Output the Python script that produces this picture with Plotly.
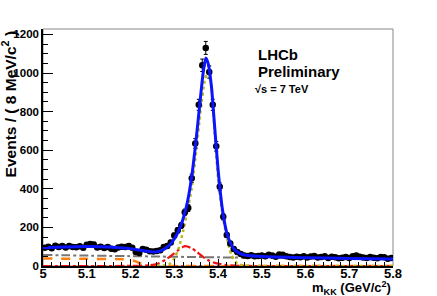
import numpy as np
import plotly.graph_objects as go

# ---- binned data: 100 bins of 8 MeV from 5.0 to 5.8 GeV ----
bin_lo = 5.0
bin_width = 0.008
counts = [95, 100, 92, 105, 98, 103, 96, 104, 99, 97,
          102, 94, 110, 114, 112, 96, 100, 93, 98, 90,
          87, 96, 100, 98, 104, 95, 72, 68, 88, 84,
          76, 75, 78, 82, 98, 104, 122, 158, 185, 210,
          278, 300, 455, 635, 835, 1040, 1130, 1005, 835, 620,
          410, 255, 160, 117, 88, 72, 62, 55, 52, 56,
          50, 52, 55, 50, 58, 54, 48, 60, 58, 50,
          46, 44, 48, 45, 50, 44, 49, 52, 44, 47,
          50, 42, 48, 45, 40, 43, 47, 42, 50, 54,
          48, 44, 41, 46, 43, 40, 47, 45, 38, 42]

# ---- fit components ----
total_x = [5.00, 5.05, 5.10, 5.15, 5.20, 5.22, 5.24, 5.25, 5.26, 5.27, 5.28, 5.29,
           5.30, 5.31, 5.32, 5.33, 5.34, 5.35, 5.36, 5.366, 5.372, 5.378, 5.385,
           5.39, 5.40, 5.41, 5.42, 5.43, 5.44, 5.45, 5.46, 5.50, 5.60, 5.70, 5.80]
total_y = [95, 98, 101, 99, 90, 83, 76, 73, 74, 80, 92, 110,
           140, 182, 242, 330, 465, 655, 875, 1000, 1078, 1045, 930,
           790, 505, 295, 172, 112, 80, 65, 57, 49, 43, 39, 36]

sig_x = [5.26, 5.28, 5.29, 5.30, 5.31, 5.32, 5.33, 5.34, 5.35, 5.36, 5.37, 5.377,
         5.385, 5.39, 5.40, 5.41, 5.42, 5.43, 5.44, 5.45, 5.46, 5.48, 5.80]
sig_y = [1, 4, 12, 38, 92, 178, 285, 405, 590, 800, 965, 1003,
         930, 775, 455, 270, 150, 62, 22, 7, 2, 0.5, 0]

b0_x = [5.00, 5.20, 5.24, 5.26, 5.28, 5.30, 5.31, 5.32, 5.325, 5.33, 5.34, 5.35,
        5.36, 5.37, 5.38, 5.39, 5.40, 5.42, 5.44, 5.46, 5.50, 5.80]
b0_y = [0, 0.5, 3, 10, 32, 66, 84, 99, 103, 101, 92, 76,
        58, 40, 27, 18, 12, 5, 2, 0.5, 0, 0]

comb_x = [5.0, 5.2, 5.4, 5.6, 5.8]
comb_y = [57, 51, 45, 40, 36]

part_x = [5.00, 5.10, 5.18, 5.20, 5.21, 5.22, 5.23, 5.24, 5.25, 5.26, 5.80]
part_y = [39, 37, 35, 32, 25, 16, 10, 4, 1, 0, 0]

other_x = [5.0, 5.1, 5.2, 5.3, 5.4, 5.8]
other_y = [1, 1.5, 2, 1.5, 0.5, 0]

x_ticks = [5.0, 5.1, 5.2, 5.3, 5.4, 5.5, 5.6, 5.7, 5.8]
x_labels = ["5", "5.1", "5.2", "5.3", "5.4", "5.5", "5.6", "5.7", "5.8"]
y_ticks = [0, 200, 400, 600, 800, 1000, 1200]

centers = bin_lo + bin_width * (np.arange(len(counts)) + 0.5)
errs = np.sqrt(np.array(counts, dtype=float))

FONT = "Liberation Sans"

fig = go.Figure()
fig.add_trace(go.Scatter(x=other_x, y=other_y, mode="lines", line=dict(color="#cc2222", width=1.5, dash="dot")))
fig.add_trace(go.Scatter(x=part_x, y=part_y, mode="lines", line=dict(color="#ff7f0e", width=2.5, dash="dash", shape="spline", smoothing=0.6)))
fig.add_trace(go.Scatter(x=comb_x, y=comb_y, mode="lines", line=dict(color="#777777", width=2, dash="dashdot", shape="spline")))
fig.add_trace(go.Scatter(x=b0_x, y=b0_y, mode="lines", line=dict(color="#ee1111", width=2.2, dash="dashdot", shape="spline", smoothing=0.6)))
fig.add_trace(go.Scatter(x=sig_x, y=sig_y, mode="lines", line=dict(color="#b8b818", width=2.5, dash="dot", shape="spline", smoothing=0.6)))
fig.add_trace(go.Scatter(x=centers, y=counts, mode="markers",
                         marker=dict(color="black", size=6.5),
                         error_y=dict(type="data", array=errs, color="black", thickness=1, width=2)))
fig.add_trace(go.Scatter(x=total_x, y=total_y, mode="lines", line=dict(color="#0a14ff", width=3, shape="spline", smoothing=0.6)))

fig.update_layout(
    template="none",
    width=437, height=296,
    margin=dict(l=43, r=44, t=29, b=30),
    paper_bgcolor="white", plot_bgcolor="white",
    showlegend=False,
    font=dict(family=FONT, size=13, color="black"),
    xaxis=dict(range=[5.0, 5.8], tickvals=x_ticks, ticktext=x_labels, automargin=False,
               ticks="inside", ticklen=7, tickwidth=1, tickcolor="black",
               showline=True, linecolor="black", linewidth=1.5, showgrid=False, zeroline=False,
               tickfont=dict(family=FONT, size=13, weight="bold"), ticklabelstandoff=-5,
               minor=dict(dtick=0.02, ticks="inside", ticklen=4, tickcolor="black", showgrid=False)),
    yaxis=dict(range=[0, 1228], tickvals=y_ticks, automargin=False,
               ticks="inside", ticklen=10, tickwidth=1, tickcolor="black",
               showline=True, linecolor="black", linewidth=1.5, showgrid=False, zeroline=False,
               tickfont=dict(family=FONT, size=11.5, weight="bold"),
               minor=dict(dtick=50, ticks="inside", ticklen=5, tickcolor="black", showgrid=False)),
)

fig.add_shape(type="rect", xref="paper", yref="paper", x0=0, x1=1, y0=0, y1=1,
              line=dict(color="#888888", width=1), layer="below")

fig.add_annotation(text="<b>Events / ( 8 MeV/c<sup>2</sup> )</b>", xref="paper", yref="paper",
                   x=-0.096, y=1.0, xanchor="center", yanchor="top", textangle=-90,
                   showarrow=False, font=dict(family=FONT, size=15.5))
fig.add_annotation(text="<b>m<sub>KK</sub> (GeV/c<sup>2</sup>)</b>", xref="paper", yref="paper",
                   x=1.0, y=-0.094, xanchor="right", yanchor="middle",
                   showarrow=False, font=dict(family=FONT, size=13))
fig.add_annotation(text="<b>LHCb</b>", xref="paper", yref="paper", x=0.609, y=0.893,
                   xanchor="left", yanchor="middle", showarrow=False, font=dict(family=FONT, size=15))
fig.add_annotation(text="<b>Preliminary</b>", xref="paper", yref="paper", x=0.609, y=0.822,
                   xanchor="left", yanchor="middle", showarrow=False, font=dict(family=FONT, size=15))
fig.add_annotation(text="<b>\u221As = 7 TeV</b>", xref="paper", yref="paper", x=0.60, y=0.745,
                   xanchor="left", yanchor="middle", showarrow=False, font=dict(family=FONT, size=11))

fig.write_html("out.html", config={"displayModeBar": False},
               post_script="document.body.style.margin='0';document.body.style.overflow='hidden';")
